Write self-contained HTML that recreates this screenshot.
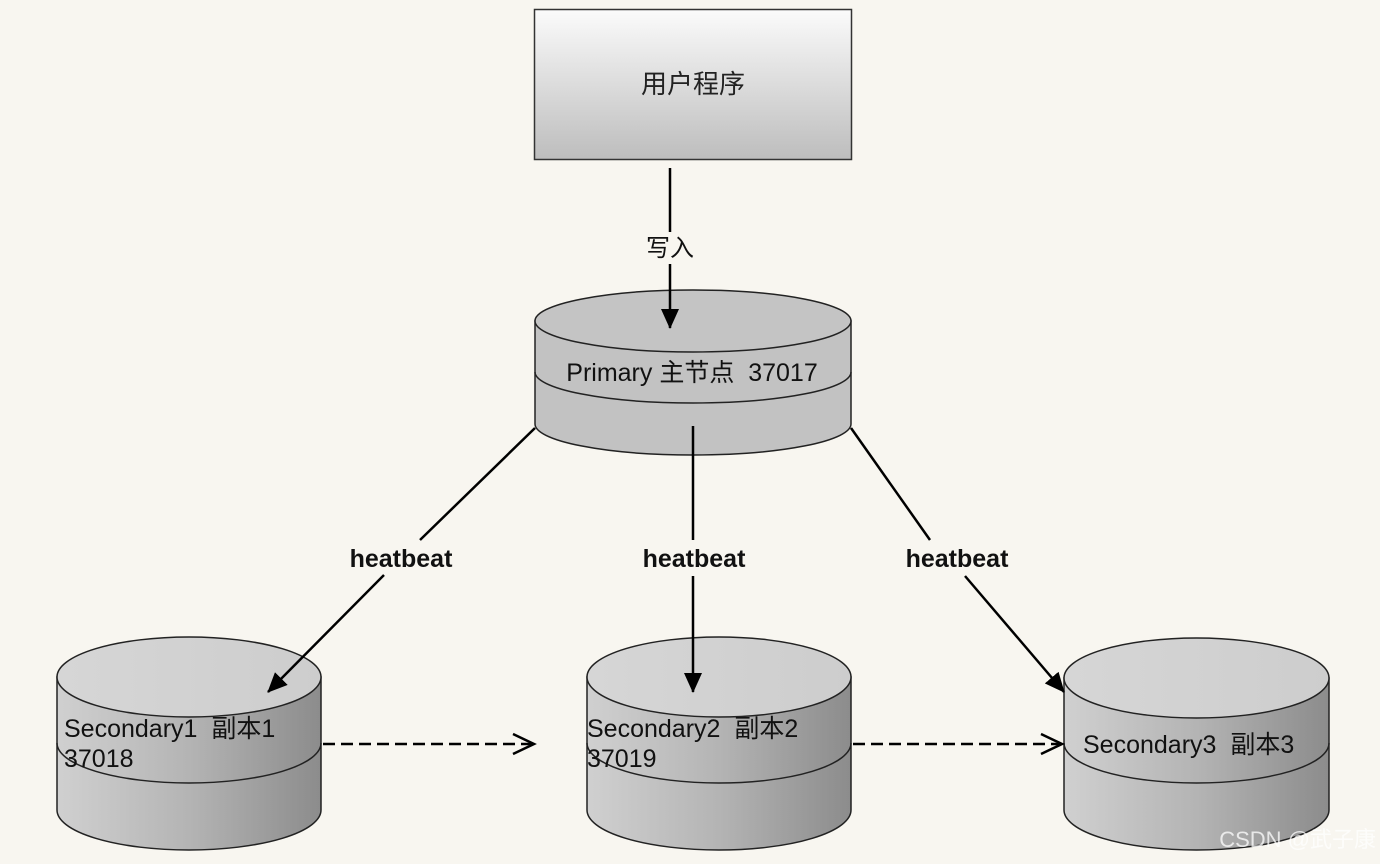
<!DOCTYPE html>
<html><head><meta charset="utf-8"><style>
html,body{margin:0;padding:0;background:#f8f6f0;}
svg{display:block}
text{font-family:"Liberation Sans","Noto Sans CJK SC",sans-serif;white-space:pre;}
</style></head><body>
<svg width="1380" height="864" viewBox="0 0 1380 864" xmlns="http://www.w3.org/2000/svg" xml:space="preserve">
<defs>
<linearGradient id="box" x1="0" y1="0" x2="0" y2="1"><stop offset="0" stop-color="#fbfbfb"/><stop offset="1" stop-color="#bdbdbd"/></linearGradient>
<linearGradient id="body" x1="0" y1="0" x2="1" y2="0"><stop offset="0" stop-color="#d0d0d0"/><stop offset="0.5" stop-color="#b4b4b4"/><stop offset="1" stop-color="#8c8c8c"/></linearGradient>
<linearGradient id="top" x1="0" y1="0" x2="1" y2="0"><stop offset="0" stop-color="#d6d6d6"/><stop offset="1" stop-color="#cdcdcd"/></linearGradient>
<marker id="ah" markerWidth="20" markerHeight="18" refX="19" refY="9" orient="auto" markerUnits="userSpaceOnUse" viewBox="0 0 20 18"><path d="M0,0 L20,9 L0,18 z" fill="#000"/></marker>
</defs>
<rect width="1380" height="864" fill="#f8f6f0"/>
<rect x="534.5" y="9.5" width="317" height="150" fill="url(#box)" stroke="#333" stroke-width="1.5"/>
<text x="693" y="93" font-size="26" text-anchor="middle" fill="#222">用户程序</text>

<g stroke="#222" stroke-width="1.5">
<path d="M535,321 L535,424 A158,31 0 0 0 851,424 L851,321 Z" fill="#c2c2c2"/>
<ellipse cx="693" cy="321" rx="158" ry="31" fill="#c4c4c4"/>
<path d="M535,372 A158,31 0 0 0 851,372" fill="none"/>
</g>
<text x="692" y="381" font-size="25" text-anchor="middle" fill="#111">Primary 主节点  37017</text>

<g stroke="#222" stroke-width="1.5">
<path d="M57,677 L57,810 A132,40 0 0 0 321,810 L321,677 Z" fill="url(#body)"/>
<ellipse cx="189" cy="677" rx="132" ry="40" fill="url(#top)"/>
<path d="M57,743 A132,40 0 0 0 321,743" fill="none"/>
<path d="M587,677 L587,810 A132,40 0 0 0 851,810 L851,677 Z" fill="url(#body)"/>
<ellipse cx="719" cy="677" rx="132" ry="40" fill="url(#top)"/>
<path d="M587,743 A132,40 0 0 0 851,743" fill="none"/>
<path d="M1064,678 L1064,810 A132.5,40 0 0 0 1329,810 L1329,678 Z" fill="url(#body)"/>
<ellipse cx="1196.5" cy="678" rx="132.5" ry="40" fill="url(#top)"/>
<path d="M1064,743 A132.5,40 0 0 0 1329,743" fill="none"/>
</g>
<text x="64" y="737" font-size="25" fill="#111">Secondary1  副本1</text>
<text x="64" y="767" font-size="25" fill="#111">37018</text>
<text x="587" y="737" font-size="25" fill="#111">Secondary2  副本2</text>
<text x="587" y="767" font-size="25" fill="#111">37019</text>
<text x="1083" y="753" font-size="25" fill="#111">Secondary3  副本3</text>

<g stroke="#000" stroke-width="2.5" fill="none">
<line x1="670" y1="168" x2="670" y2="232"/>
<line x1="670" y1="264" x2="670" y2="328" marker-end="url(#ah)"/>
<line x1="535" y1="428" x2="420" y2="540"/>
<line x1="384" y1="575" x2="268" y2="692" marker-end="url(#ah)"/>
<line x1="693" y1="426" x2="693" y2="540"/>
<line x1="693" y1="576" x2="693" y2="692" marker-end="url(#ah)"/>
<line x1="851" y1="428" x2="930" y2="540"/>
<line x1="965" y1="576" x2="1064" y2="692" marker-end="url(#ah)"/>
</g>
<g stroke="#000" stroke-width="2.5" fill="none">
<line x1="323" y1="744" x2="533" y2="744" stroke-dasharray="12,6"/>
<path d="M513,734 L534,744 L513,754"/>
<line x1="853" y1="744" x2="1061" y2="744" stroke-dasharray="12,6"/>
<path d="M1041,734 L1062,744 L1041,754"/>
</g>
<text x="670" y="256" font-size="24" text-anchor="middle" fill="#111">写入</text>
<text x="401" y="567" font-size="25" font-weight="bold" text-anchor="middle" fill="#111">heatbeat</text>
<text x="694" y="567" font-size="25" font-weight="bold" text-anchor="middle" fill="#111">heatbeat</text>
<text x="957" y="567" font-size="25" font-weight="bold" text-anchor="middle" fill="#111">heatbeat</text>
<text x="1376" y="847" font-size="22" text-anchor="end" fill="#ffffff" fill-opacity="0.75">CSDN @武子康</text>
</svg>
</body></html>
